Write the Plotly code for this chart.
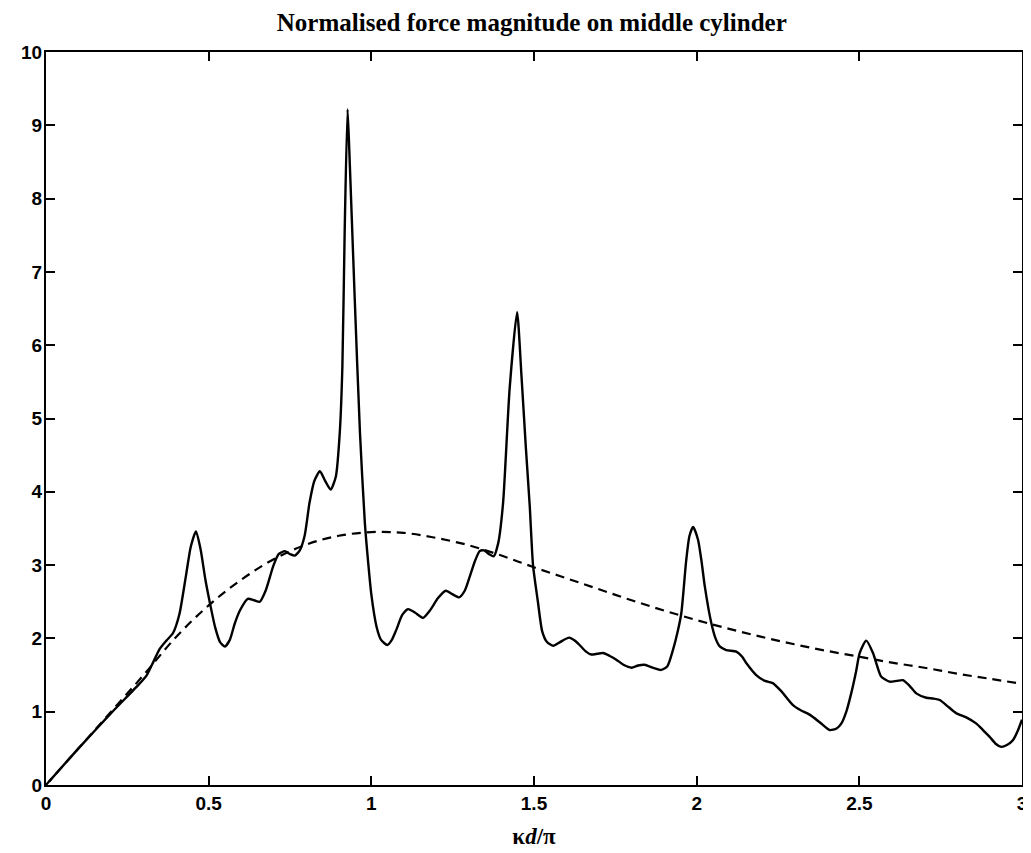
import plotly.graph_objects as go

# Solid curve: normalised force magnitude on middle cylinder
solid_x = [0.01, 0.1, 0.2, 0.289, 0.31, 0.33, 0.35, 0.37, 0.39, 0.41, 0.43, 0.445, 0.461, 0.475,
           0.49, 0.504, 0.52, 0.535, 0.55, 0.565, 0.58, 0.596, 0.62, 0.64, 0.657, 0.675, 0.698,
           0.715, 0.734, 0.75, 0.765, 0.78, 0.795, 0.81, 0.825, 0.842, 0.858, 0.875, 0.891,
           0.903, 0.911, 0.918, 0.927, 0.934, 0.949, 0.965, 0.980, 0.99, 1.0, 1.016, 1.03,
           1.049, 1.063, 1.077, 1.095, 1.113, 1.135, 1.159, 1.18, 1.205, 1.229, 1.25, 1.27,
           1.287, 1.303, 1.318, 1.333, 1.346, 1.362, 1.376, 1.39, 1.405, 1.425, 1.448, 1.461,
           1.475, 1.487, 1.497, 1.512, 1.525, 1.54, 1.559, 1.58, 1.608, 1.625, 1.64, 1.66,
           1.676, 1.695, 1.712, 1.733, 1.753, 1.775, 1.80, 1.82, 1.84, 1.865, 1.891, 1.91,
           1.927, 1.942, 1.953, 1.968, 1.978, 1.989, 2.004, 2.015, 2.025, 2.045, 2.058, 2.071,
           2.091, 2.122, 2.14, 2.153, 2.183, 2.21, 2.234, 2.26, 2.296, 2.32, 2.347, 2.38,
           2.409, 2.43, 2.445, 2.46, 2.475, 2.49, 2.501, 2.521, 2.542, 2.555, 2.567, 2.593,
           2.615, 2.634, 2.655, 2.675, 2.706, 2.727, 2.747, 2.775, 2.798, 2.83, 2.859, 2.88,
           2.9, 2.92, 2.936, 2.955, 2.972, 2.987, 3.0]
solid_y = [0.05, 0.5, 0.98, 1.39, 1.5, 1.68, 1.86, 1.97, 2.07, 2.33, 2.85, 3.25, 3.46, 3.22,
           2.8, 2.48, 2.15, 1.95, 1.89, 1.98, 2.2, 2.38, 2.54, 2.52, 2.50, 2.65, 2.98,
           3.15, 3.19, 3.15, 3.13, 3.2, 3.4, 3.85, 4.15, 4.28, 4.15, 4.03, 4.21,
           4.81, 5.71, 7.54, 9.22, 8.45, 6.63, 4.81, 3.58, 3.05, 2.6, 2.16, 1.98,
           1.91, 1.98, 2.12, 2.32, 2.40, 2.35, 2.28, 2.38, 2.55, 2.65, 2.60, 2.56,
           2.65, 2.85, 3.05, 3.19, 3.20, 3.15, 3.12, 3.3, 3.85, 5.40, 6.45, 5.62,
           4.6, 3.80, 3.0, 2.5, 2.1, 1.95, 1.90, 1.95, 2.01, 1.97, 1.91, 1.82,
           1.78, 1.79, 1.80, 1.76, 1.71, 1.64, 1.60, 1.63, 1.64, 1.60, 1.57, 1.62,
           1.84, 2.1, 2.35, 3.07, 3.4, 3.52, 3.35, 3.05, 2.71, 2.21, 2.0, 1.89,
           1.84, 1.82, 1.75, 1.66, 1.50, 1.42, 1.39, 1.28, 1.09, 1.02, 0.96, 0.85,
           0.75, 0.77, 0.84, 1.0, 1.25, 1.55, 1.80, 1.97, 1.80, 1.62, 1.48, 1.41,
           1.42, 1.43, 1.35, 1.25, 1.19, 1.18, 1.16, 1.06, 0.98, 0.92, 0.84, 0.75,
           0.66, 0.56, 0.52, 0.55, 0.61, 0.74, 0.89]

# Dashed curve
dashed_x = [0.0, 0.1, 0.2, 0.3, 0.4, 0.5, 0.6, 0.7, 0.8, 0.9, 1.0, 1.1, 1.2, 1.3, 1.4, 1.5,
            1.6, 1.7, 1.8, 1.9, 2.0, 2.1, 2.2, 2.3, 2.4, 2.5, 2.6, 2.7, 2.8, 2.9, 3.0]
dashed_y = [0.0, 0.5, 1.0, 1.5, 2.02, 2.45, 2.80, 3.08, 3.28, 3.40, 3.45, 3.44, 3.37, 3.27,
            3.13, 2.97, 2.82, 2.67, 2.52, 2.38, 2.25, 2.13, 2.02, 1.92, 1.83, 1.75, 1.67,
            1.60, 1.52, 1.45, 1.38]

x_ticks = [0, 0.5, 1, 1.5, 2, 2.5, 3]
x_tick_labels = ["0", "0.5", "1", "1.5", "2", "2.5", "3"]
y_ticks = list(range(0, 11))
y_tick_labels = [str(v) for v in y_ticks]

fig = go.Figure()
fig.add_trace(go.Scatter(x=solid_x, y=solid_y, mode="lines",
                         line=dict(color="black", width=2.4, shape="spline", smoothing=0.6),
                         showlegend=False, hoverinfo="skip"))
fig.add_trace(go.Scatter(x=dashed_x, y=dashed_y, mode="lines",
                         line=dict(color="black", width=2.2, dash="9px,6px", shape="spline"),
                         showlegend=False, hoverinfo="skip"))

axis_common = dict(showgrid=False, zeroline=False, showline=True, linecolor="black",
                   linewidth=2, mirror="allticks", ticks="inside", ticklen=9,
                   tickwidth=1.5, tickcolor="black", automargin=False,
                   tickfont=dict(family="Liberation Sans, Arial", size=19, color="black",
                                 weight="bold"))

# The page body adds an 8px margin, so the figure is sized to fit inside the window.
fig.update_layout(
    width=1023, height=845,
    margin=dict(l=38, r=9, t=44, b=68),
    paper_bgcolor="white", plot_bgcolor="white",
    title=dict(text="Normalised force magnitude on middle cylinder",
               font=dict(family="Liberation Serif, Times New Roman", size=25, color="black",
                         weight="bold"),
               x=0.512, xanchor="center", y=0.983, yanchor="middle"),
    xaxis=dict(range=[0, 3], tickvals=x_ticks, ticktext=x_tick_labels,
               ticklabelstandoff=0,
               title=dict(text="κ<i>d</i>/π", standoff=15,
                          font=dict(family="Liberation Serif, Times New Roman", size=23,
                                    color="black", weight="bold")),
               **axis_common),
    yaxis=dict(range=[0, 10], tickvals=y_ticks, ticktext=y_tick_labels,
               ticklabelstandoff=-2, **axis_common),
)

fig.write_html("out.html")
